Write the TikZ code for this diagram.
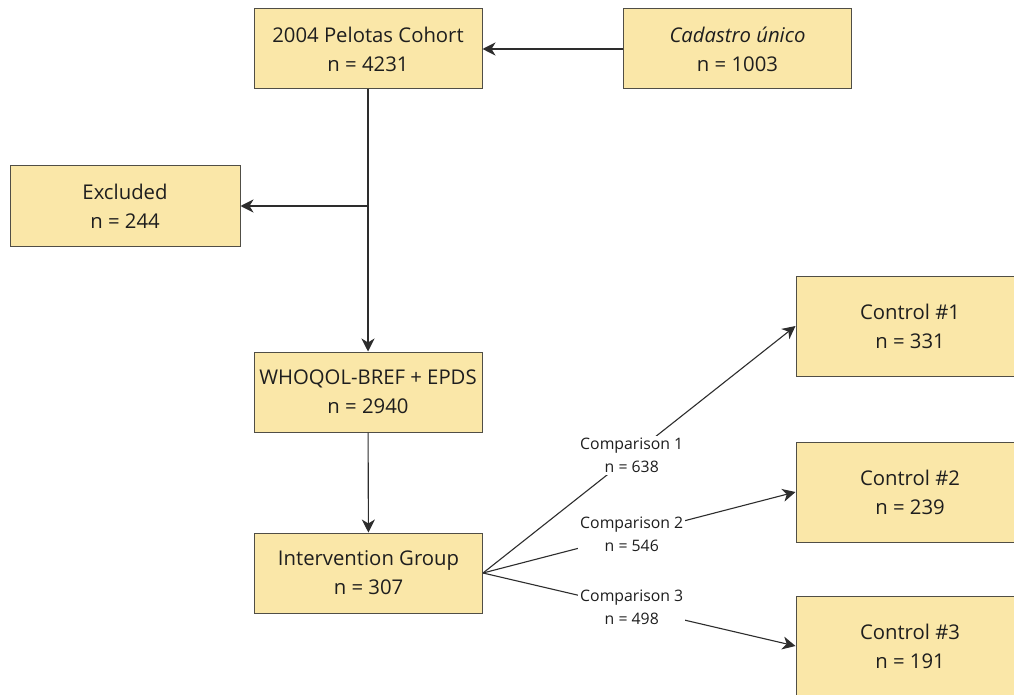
\documentclass[tikz,border=0pt]{standalone}
\usepackage{fontspec}
\setmainfont{Open Sans}
\usetikzlibrary{arrows.meta}
\definecolor{boxfill}{RGB}{250,231,168}
\definecolor{boxline}{RGB}{80,78,70}
\definecolor{ink}{RGB}{30,30,30}
\definecolor{wire}{RGB}{45,45,45}

\begin{document}
\begin{tikzpicture}[x=1pt,y=-1pt,
  box/.style={draw=boxline, line width=1pt, fill=boxfill,
    minimum width=228pt, minimum height=80pt, inner sep=0pt,
    align=center, font=\fontsize{20.3}{29}\selectfont, text=ink},
  ctrl/.style={box, minimum height=100pt},
  arr/.style={draw=wire, line width=1.1pt,
    -{Stealth[length=13pt,width=13pt,inset=4pt]}},
  lbl/.style={fill=white, inner sep=2pt, align=center,
    font=\fontsize{15.8}{23}\selectfont, text=ink}]
\useasboundingbox[fill=white] (0,0) rectangle (1014,695);
\clip (0,0) rectangle (1014,695);

% flow of the cohort
\node[box] (cohort) at (368,49)   {2004 Pelotas Cohort\\n = 4231};
\node[box] (cad)    at (737.5,49) {\itshape Cadastro único\\n = 1003};
\node[box, minimum width=230pt] (excl) at (125,206) {Excluded\\n = 244};
\node[box] (who)    at (368,392)  {WHOQOL-BREF + EPDS\\n = 2940};
\node[box] (ig)     at (368.5,573){Intervention Group\\n = 307};

% control groups
\node[ctrl] (c1) at (910,326) {Control \#1\\n = 331};
\node[ctrl] (c2) at (910,492) {Control \#2\\n = 239};
\node[ctrl] (c3) at (910,646) {Control \#3\\n = 191};

\coordinate (split) at (368,206);

\draw[arr] (cad) -- (cohort);
\draw[arr] (cohort) -- (who);
\draw[arr] (split) -- (excl);
\draw[arr] (who) -- (ig);

\draw[arr] (ig.east) -- node[lbl, pos=0.476] {Comparison 1\\n = 638} (c1.west);
\draw[arr] (ig.east) -- node[lbl, pos=0.476] {Comparison 2\\n = 546} (c2.west);
\draw[arr] (ig.east) -- node[lbl, pos=0.476] {Comparison 3\\n = 498} (c3.west);
\end{tikzpicture}
\end{document}
